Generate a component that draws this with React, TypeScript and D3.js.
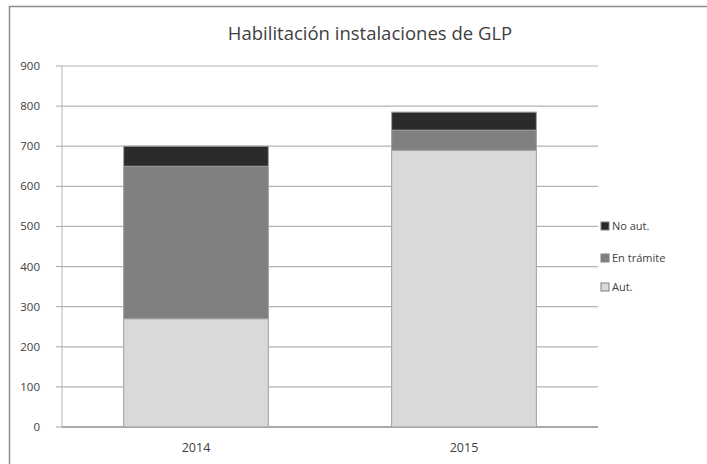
import React from 'react'
import * as d3 from 'd3'

const years = ['2014', '2015']
const seriesNames = ['Aut.', 'En trámite', 'No aut.']
const autValues = [270, 690]
const tramiteValues = [380, 50]
const noAutValues = [50, 45]
const yTicks = [0, 100, 200, 300, 400, 500, 600, 700, 800, 900]

const colors: Record<string, string> = {
	'Aut.': '#d9d9d9',
	'En trámite': '#808080',
	'No aut.': '#2b2b2b',
}

const App = () => {
	const width = 707,
		height = 464
	const left = 62,
		right = 598,
		top = 66,
		bottom = 427

	const rows = years.map((yr, i) => ({
		year: yr,
		'Aut.': autValues[i],
		'En trámite': tramiteValues[i],
		'No aut.': noAutValues[i],
	}))

	const stack = d3.stack<any>().keys(seriesNames)
	const layers = stack(rows)

	const x = d3.scaleBand().domain(years).range([left, right]).paddingInner(0.46).paddingOuter(0.23)
	const y = d3.scaleLinear().domain([0, 900]).range([bottom, top])

	// legend order is reversed (top item = last series)
	const legendItems = [...seriesNames].reverse()
	const legendY = [230, 262, 291]

	return (
		<svg
			width={width}
			height={height}
			style={{ position: 'absolute', left: 0, top: 0 }}
			fontFamily="'Open Sans', 'Noto Sans', sans-serif"
		>
			<rect x={0} y={0} width={width} height={height} fill="#fff" />
			<rect x={9.5} y={6.5} width={width} height={height} fill="none" stroke="#8c8c8c" strokeWidth={1.5} />
			<text x={370} y={40} textAnchor="middle" fontSize={18.5} fill="#404040">
				Habilitación instalaciones de GLP
			</text>

			{yTicks.map((t) => (
				<g key={t}>
					<line
						x1={left}
						x2={right}
						y1={y(t)}
						y2={y(t)}
						stroke={t === 0 ? '#8c8c8c' : '#b3b3b3'}
						strokeWidth={t === 0 ? 1.5 : 1.2}
					/>
					<line x1={left - 6} x2={left} y1={y(t)} y2={y(t)} stroke="#a6a6a6" />
					<text x={40} y={y(t) + 4} textAnchor="end" fontSize={11.5} fill="#404040">
						{t}
					</text>
				</g>
			))}
			<line x1={left} x2={left} y1={top} y2={bottom} stroke="#b3b3b3" />

			{layers.map((layer) => (
				<g key={layer.key}>
					{layer.map((d: any) => (
						<rect
							key={d.data.year}
							x={x(d.data.year)!}
							y={y(d[1])}
							width={x.bandwidth()}
							height={y(d[0]) - y(d[1])}
							fill={colors[layer.key]}
							stroke="#a0a0a0"
							strokeWidth={1}
						/>
					))}
				</g>
			))}

			{years.map((yr) => (
				<text
					key={yr}
					x={x(yr)! + x.bandwidth() / 2}
					y={452}
					textAnchor="middle"
					fontSize={12.5}
					fill="#404040"
				>
					{yr}
				</text>
			))}

			{legendItems.map((name, i) => (
				<g key={name}>
					<rect x={601} y={legendY[i] - 8} width={8} height={8} fill={colors[name]} stroke="#808080" />
					<text x={612} y={legendY[i]} fontSize={11} fill="#404040">
						{name}
					</text>
				</g>
			))}
		</svg>
	)
}

export default App
